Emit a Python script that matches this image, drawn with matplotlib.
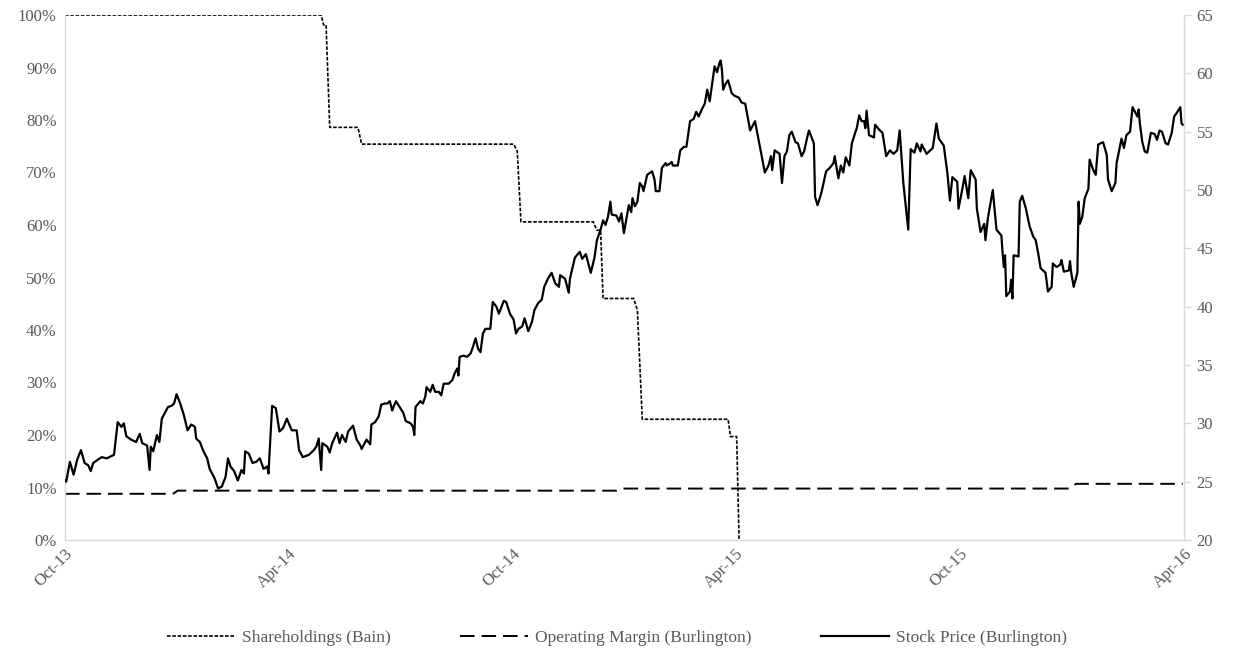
import matplotlib

matplotlib.use("Agg")
import matplotlib.pyplot as plt  # noqa: E402
import matplotlib.dates as mdates  # noqa: E402
import pandas as pd  # noqa: E402
from matplotlib.ticker import MultipleLocator, PercentFormatter  # noqa: E402

plt.rcParams["font.family"] = ["Liberation Serif", "DejaVu Serif"]
plt.rcParams["lines.scale_dashes"] = False

GREY = "#595959"
SPINE = "#d9d9d9"

# Bain's stake in Burlington (% of shares)
holding_dates = ["2013-10-01", "2014-04-28", "2014-04-30", "2014-05-02", "2014-05-05",
                 "2014-05-28", "2014-05-31", "2014-10-02", "2014-10-05", "2014-10-08",
                 "2014-12-06", "2014-12-09", "2014-12-12", "2014-12-14", "2015-01-08",
                 "2015-01-11", "2015-01-15", "2015-03-26", "2015-03-28", "2015-04-02",
                 "2015-04-04"]
holding_pct = [100, 100, 98.1, 98.1, 78.6,
               78.6, 75.4, 75.4, 74.1, 60.6,
               60.6, 59.0, 59.0, 46.0, 46.0,
               43.8, 23.0, 23.0, 19.7, 19.7,
               0]

# Burlington operating margin (%), yearly steps
margin_dates = ["2013-10-01", "2013-12-28", "2014-01-01", "2014-12-25", "2014-12-31",
                "2015-12-29", "2016-01-04", "2016-03-31"]
margin_pct = [8.8, 8.8, 9.4, 9.4, 9.8, 9.8, 10.7, 10.7]

# Burlington share price ($), right axis
stock_dates = [
    "2013-10-01", "2013-10-02", "2013-10-05", "2013-10-08", "2013-10-11", "2013-10-14", "2013-10-17",
    "2013-10-20", "2013-10-22", "2013-10-24", "2013-10-28", "2013-10-31",
    "2013-11-04", "2013-11-08", "2013-11-10", "2013-11-13", "2013-11-16", "2013-11-18", "2013-11-20",
    "2013-11-24", "2013-11-28",
    "2013-12-01", "2013-12-03", "2013-12-07", "2013-12-09", "2013-12-10", "2013-12-12", "2013-12-15",
    "2013-12-17", "2013-12-19", "2013-12-22", "2013-12-24", "2013-12-27", "2013-12-29", "2013-12-31",
    "2014-01-03", "2014-01-06", "2014-01-09", "2014-01-12", "2014-01-15", "2014-01-16", "2014-01-19",
    "2014-01-22", "2014-01-25", "2014-01-27", "2014-01-31",
    "2014-02-03", "2014-02-06", "2014-02-09", "2014-02-11", "2014-02-13", "2014-02-16", "2014-02-19",
    "2014-02-22", "2014-02-24", "2014-02-25", "2014-02-28",
    "2014-03-03", "2014-03-06", "2014-03-09", "2014-03-12", "2014-03-15", "2014-03-16", "2014-03-19",
    "2014-03-22", "2014-03-25", "2014-03-28", "2014-03-31",
    "2014-04-04", "2014-04-08", "2014-04-10", "2014-04-13", "2014-04-18", "2014-04-22", "2014-04-24",
    "2014-04-26", "2014-04-28", "2014-04-29",
    "2014-05-03", "2014-05-05", "2014-05-07", "2014-05-11", "2014-05-13", "2014-05-15", "2014-05-18",
    "2014-05-20", "2014-05-24", "2014-05-27", "2014-05-30", "2014-05-31",
    "2014-06-04", "2014-06-07", "2014-06-08", "2014-06-11", "2014-06-14", "2014-06-16", "2014-06-19",
    "2014-06-21", "2014-06-23", "2014-06-25", "2014-06-26", "2014-06-28",
    "2014-07-01", "2014-07-04", "2014-07-06", "2014-07-10", "2014-07-12", "2014-07-13", "2014-07-14",
    "2014-07-18", "2014-07-20", "2014-07-22", "2014-07-23", "2014-07-26", "2014-07-28", "2014-07-30",
    "2014-08-02", "2014-08-04", "2014-08-06", "2014-08-10", "2014-08-13", "2014-08-15", "2014-08-17",
    "2014-08-18", "2014-08-19", "2014-08-22", "2014-08-25", "2014-08-28", "2014-08-30",
    "2014-09-01", "2014-09-03", "2014-09-05", "2014-09-07", "2014-09-09", "2014-09-13", "2014-09-15",
    "2014-09-18", "2014-09-20", "2014-09-24", "2014-09-26", "2014-09-29",
    "2014-10-02", "2014-10-04", "2014-10-06", "2014-10-09", "2014-10-11", "2014-10-14", "2014-10-17",
    "2014-10-19", "2014-10-22", "2014-10-25", "2014-10-27", "2014-10-30",
    "2014-11-02", "2014-11-05", "2014-11-08", "2014-11-09", "2014-11-13", "2014-11-16", "2014-11-17",
    "2014-11-21", "2014-11-25", "2014-11-27", "2014-11-30",
    "2014-12-02", "2014-12-04", "2014-12-07", "2014-12-09", "2014-12-12", "2014-12-14", "2014-12-16",
    "2014-12-18", "2014-12-20", "2014-12-21", "2014-12-25", "2014-12-27", "2014-12-29", "2014-12-31",
    "2015-01-04", "2015-01-06", "2015-01-07", "2015-01-09", "2015-01-11", "2015-01-13", "2015-01-15",
    "2015-01-16", "2015-01-19", "2015-01-23", "2015-01-25", "2015-01-26", "2015-01-29", "2015-01-31",
    "2015-02-03", "2015-02-04", "2015-02-07", "2015-02-08", "2015-02-09", "2015-02-13", "2015-02-15",
    "2015-02-18", "2015-02-20", "2015-02-23", "2015-02-26", "2015-02-28",
    "2015-03-02", "2015-03-05", "2015-03-07", "2015-03-09", "2015-03-11", "2015-03-14", "2015-03-15",
    "2015-03-17", "2015-03-19", "2015-03-20", "2015-03-21", "2015-03-22", "2015-03-24", "2015-03-26",
    "2015-03-29", "2015-03-31",
    "2015-04-04", "2015-04-06", "2015-04-09", "2015-04-13", "2015-04-17", "2015-04-21", "2015-04-25",
    "2015-04-28", "2015-04-30",
    "2015-05-01", "2015-05-03", "2015-05-07", "2015-05-09", "2015-05-11", "2015-05-13", "2015-05-15",
    "2015-05-17", "2015-05-20", "2015-05-22", "2015-05-25", "2015-05-27", "2015-05-30", "2015-05-31",
    "2015-06-04", "2015-06-05", "2015-06-07", "2015-06-10", "2015-06-14", "2015-06-17", "2015-06-20",
    "2015-06-21", "2015-06-24", "2015-06-26", "2015-06-28", "2015-06-30",
    "2015-07-03", "2015-07-05", "2015-07-08", "2015-07-09", "2015-07-11", "2015-07-13", "2015-07-15",
    "2015-07-16", "2015-07-17", "2015-07-19", "2015-07-23", "2015-07-24", "2015-07-27", "2015-07-30",
    "2015-08-02", "2015-08-05", "2015-08-08", "2015-08-11", "2015-08-13", "2015-08-16", "2015-08-20",
    "2015-08-22", "2015-08-25", "2015-08-27", "2015-08-30", "2015-08-31",
    "2015-09-04", "2015-09-07", "2015-09-09", "2015-09-12", "2015-09-14", "2015-09-18", "2015-09-21",
    "2015-09-23", "2015-09-25", "2015-09-29", "2015-09-30",
    "2015-10-03", "2015-10-05", "2015-10-08", "2015-10-10", "2015-10-14", "2015-10-15", "2015-10-18",
    "2015-10-21", "2015-10-22", "2015-10-24", "2015-10-28", "2015-10-31",
    "2015-11-04", "2015-11-05", "2015-11-06", "2015-11-07", "2015-11-08", "2015-11-11", "2015-11-12",
    "2015-11-13", "2015-11-14", "2015-11-18", "2015-11-19", "2015-11-21", "2015-11-24", "2015-11-27",
    "2015-11-30",
    "2015-12-02", "2015-12-04", "2015-12-06", "2015-12-08", "2015-12-10", "2015-12-12", "2015-12-15",
    "2015-12-16", "2015-12-19", "2015-12-22", "2015-12-23", "2015-12-25", "2015-12-29", "2015-12-30",
    "2015-12-31",
    "2016-01-02", "2016-01-05", "2016-01-06", "2016-01-07", "2016-01-09", "2016-01-11", "2016-01-14",
    "2016-01-15", "2016-01-18", "2016-01-20", "2016-01-22", "2016-01-26", "2016-01-29", "2016-01-30",
    "2016-02-02", "2016-02-05", "2016-02-06", "2016-02-10", "2016-02-12", "2016-02-14", "2016-02-17",
    "2016-02-19", "2016-02-23", "2016-02-24", "2016-02-25", "2016-02-27", "2016-02-29",
    "2016-03-02", "2016-03-05", "2016-03-08", "2016-03-10", "2016-03-12", "2016-03-14", "2016-03-17",
    "2016-03-19", "2016-03-22", "2016-03-24", "2016-03-26", "2016-03-29", "2016-03-30", "2016-03-31",
]
stock_price = [
    25.1, 25.0, 26.7, 25.6, 26.9, 27.7, 26.6, 26.4, 25.9, 26.6, 26.9, 27.1,
    27.0, 27.2, 27.3, 30.1, 29.7, 30.0, 28.9, 28.6, 28.4,
    29.1, 28.3, 28.1, 26.0, 28.0, 27.6, 29.0, 28.4, 30.4, 31.0, 31.4, 31.5, 31.7, 32.5,
    31.7, 30.7, 29.4, 29.9, 29.7, 28.7, 28.4, 27.6, 27.0, 26.1, 25.3,
    24.4, 24.6, 25.4, 27.0, 26.3, 25.9, 25.1, 26.0, 25.7, 27.6, 27.4,
    26.6, 26.7, 27.0, 26.1, 26.3, 25.7, 31.5, 31.3, 29.3, 29.6, 30.4,
    29.4, 29.4, 27.7, 27.1, 27.3, 27.7, 28.0, 28.7, 26.0, 28.3,
    28.0, 27.5, 28.3, 29.2, 28.3, 29.0, 28.4, 29.3, 29.8, 28.6, 28.1, 27.8,
    28.6, 28.2, 29.9, 30.1, 30.6, 31.6, 31.7, 31.7, 31.9, 31.1, 31.4, 31.9,
    31.4, 30.9, 30.2, 30.0, 29.7, 29.0, 31.4, 31.9, 31.7, 32.3, 33.1, 32.7, 33.3, 32.7,
    32.7, 32.4, 33.4, 33.4, 33.7, 34.3, 34.7, 34.1, 35.7, 35.8, 35.7, 36.0, 36.6,
    37.3, 36.4, 36.1, 37.7, 38.1, 38.1, 40.4, 40.0, 39.4, 40.5, 40.4, 39.4,
    38.9, 37.7, 38.1, 38.3, 39.0, 37.9, 38.7, 39.7, 40.3, 40.6, 41.7, 42.4,
    42.9, 42.0, 41.7, 42.7, 42.4, 41.2, 42.4, 44.2, 44.7, 44.1, 44.5,
    43.7, 42.9, 44.2, 45.7, 46.6, 47.4, 47.0, 47.7, 49.0, 47.9, 47.8, 47.3, 48.0, 46.3,
    48.7, 48.1, 49.3, 48.6, 49.0, 50.6, 50.3, 49.9, 51.3, 51.6, 50.9, 49.9, 49.9, 51.9,
    52.3, 52.1, 52.3, 52.4, 52.1, 52.1, 53.4, 53.7, 53.7, 55.9, 56.1, 56.7,
    56.3, 57.0, 57.4, 58.6, 57.6, 59.9, 60.6, 60.1, 60.9, 61.1, 60.3, 58.6, 59.1, 59.4,
    58.3, 58.1,
    57.9, 57.5, 57.4, 55.1, 55.9, 53.7, 51.5, 52.1, 52.9,
    51.7, 53.4, 53.1, 50.6, 52.9, 53.3, 54.7, 55.0, 54.1, 54.0, 52.9, 53.3, 54.7, 55.1,
    54.0, 49.4, 48.7, 49.7, 51.6, 51.9, 52.3, 52.9, 51.0, 52.1, 51.5, 52.8,
    52.1, 54.0, 55.0, 55.3, 56.4, 55.9, 55.9, 55.3, 56.8, 54.7, 54.5, 55.6, 55.2, 54.9,
    52.9, 53.4, 53.1, 53.4, 55.1, 50.6, 46.6, 53.5, 53.2, 54.0, 53.3, 53.9,
    53.1, 53.4, 53.6, 55.7, 54.4, 53.8, 51.4, 49.1, 51.1, 50.7, 48.4,
    50.0, 51.2, 49.3, 51.7, 50.9, 48.4, 46.4, 47.1, 45.7, 47.6, 50.0, 46.6,
    46.1, 44.6, 43.4, 44.4, 40.9, 41.3, 42.3, 40.7, 44.4, 44.3, 49.0, 49.5, 48.4, 46.9,
    46.0,
    45.7, 44.6, 43.3, 43.1, 42.9, 41.3, 41.7, 43.7, 43.4, 43.6, 44.0, 43.0, 43.1, 43.9,
    42.9,
    41.7, 42.9, 49.0, 47.1, 47.7, 49.3, 50.1, 52.6, 51.7, 51.3, 53.9, 54.1, 53.0, 50.9,
    49.9, 50.6, 52.3, 54.4, 53.6, 54.7, 55.0, 57.1, 56.3, 56.9, 55.7, 54.1, 53.3,
    53.2, 54.9, 54.8, 54.3, 55.1, 55.0, 54.0, 53.9, 54.9, 56.3, 56.6, 57.1, 55.7, 55.6,
]

fig = plt.figure(figsize=(12.34, 6.62), dpi=100)
ax = fig.add_axes([65 / 1234, 1 - 540 / 662, (1184 - 65) / 1234, (540 - 15) / 662])
ax2 = ax.twinx()

h1, = ax.plot(pd.to_datetime(holding_dates), holding_pct, color="black", lw=1.2,
              ls=(0, (2.6, 1.2)), label="Shareholdings (Bain)")
h2, = ax.plot(pd.to_datetime(margin_dates), margin_pct, color="black", lw=1.4,
              ls=(0, (10.5, 5.0)), label="Operating Margin (Burlington)")
h3, = ax2.plot(pd.to_datetime(stock_dates), stock_price, color="black", lw=1.6,
               label="Stock Price (Burlington)")

ax.set_ylim(0, 100)
ax.yaxis.set_major_locator(MultipleLocator(10))
ax.yaxis.set_major_formatter(PercentFormatter(xmax=100, decimals=0))
ax2.set_ylim(20, 65)
ax2.yaxis.set_major_locator(MultipleLocator(5))

ax.set_xlim(pd.Timestamp("2013-10-01"), pd.Timestamp("2016-04-01"))
ax.xaxis.set_major_locator(mdates.MonthLocator(bymonth=[4, 10], bymonthday=1))
ax.xaxis.set_major_formatter(mdates.DateFormatter("%b-%y"))

for a in (ax, ax2):
    a.spines["top"].set_visible(False)
    for s in ("left", "right", "bottom"):
        a.spines[s].set_color(SPINE)
        a.spines[s].set_linewidth(1.0)
ax.spines["right"].set_visible(False)
ax2.spines["left"].set_visible(False)
ax2.spines["bottom"].set_visible(False)

ax.tick_params(axis="y", length=0, pad=6, labelsize=12, labelcolor=GREY)
ax.tick_params(axis="x", length=0, pad=4, labelsize=12, labelcolor=GREY)
ax2.tick_params(axis="y", length=5, width=1.0, color=SPINE, pad=4, labelsize=12, labelcolor=GREY)
for lab in ax.get_xticklabels():
    lab.set_rotation(45)
    lab.set_ha("right")
    lab.set_rotation_mode("anchor")

fig.legend(handles=[h1, h2, h3], loc="lower center", bbox_to_anchor=(0.5, 0.0), ncol=3,
           frameon=False, fontsize=12.5, labelcolor=GREY, handlelength=3.9,
           columnspacing=4.0, handletextpad=0.4)

fig.savefig("out.png", dpi=100)
plt.close(fig)
